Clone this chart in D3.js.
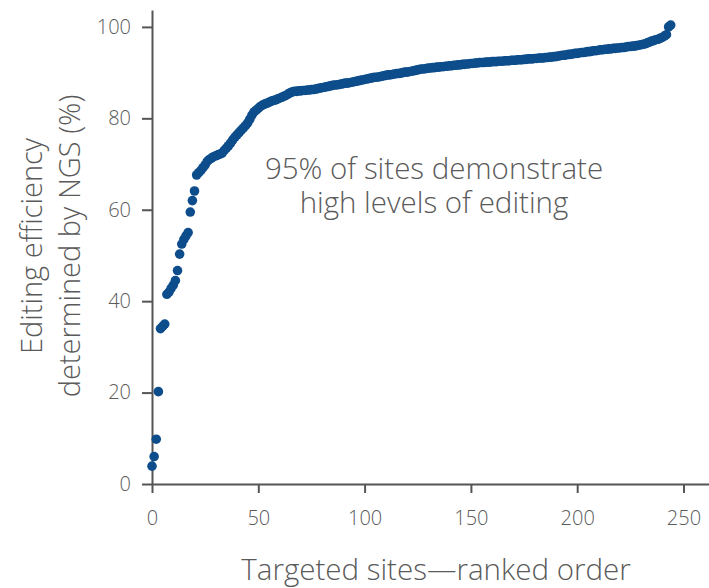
<!DOCTYPE html>
<html>
<head>
<meta charset="utf-8">
<script src="https://cdn.jsdelivr.net/npm/d3@7"></script>
<style>
  body { margin: 0; background: #fff; }
  text { font-family: "Open Sans", Lato, sans-serif; font-weight: 300; fill: #5a5a5a; }
</style>
</head>
<body>
<svg id="chart" width="709" height="588"></svg>
<script>
// 編集効率 (%) — ランク順に並べたもの
var efficiency = [
  3.9, 6.0, 9.8, 20.2, 34.0, 34.5, 35.0, 41.5, 42.0, 42.8,
  43.5, 44.5, 46.7, 50.3, 52.5, 53.5, 54.3, 55.0, 59.5, 62.0,
  64.1, 67.6, 68.1, 68.6, 69.2, 69.8, 70.6, 71.0, 71.3, 71.6,
  71.8, 72.0, 72.2, 72.4, 73.0, 73.5, 74.0, 74.6, 75.3, 75.9,
  76.4, 76.9, 77.4, 77.9, 78.4, 79.0, 79.8, 80.7, 81.4, 81.8,
  82.2, 82.6, 82.9, 83.1, 83.3, 83.5, 83.7, 83.9, 84.0, 84.2,
  84.4, 84.6, 84.8, 85.0, 85.3, 85.6, 85.8, 85.9, 85.9, 86.0,
  86.0, 86.1, 86.1, 86.2, 86.2, 86.3, 86.3, 86.4, 86.5, 86.6,
  86.7, 86.8, 86.9, 87.0, 87.1, 87.2, 87.3, 87.3, 87.4, 87.5,
  87.6, 87.7, 87.7, 87.8, 87.9, 88.0, 88.1, 88.2, 88.3, 88.4,
  88.5, 88.6, 88.7, 88.8, 88.9, 89.0, 89.0, 89.1, 89.2, 89.3,
  89.4, 89.5, 89.5, 89.6, 89.7, 89.8, 89.8, 89.9, 90.0, 90.1,
  90.1, 90.2, 90.3, 90.4, 90.5, 90.6, 90.7, 90.8, 90.8, 90.9,
  91.0, 91.0, 91.1, 91.1, 91.2, 91.2, 91.3, 91.3, 91.4, 91.4,
  91.5, 91.5, 91.6, 91.6, 91.7, 91.7, 91.8, 91.8, 91.9, 91.9,
  92.0, 92.0, 92.1, 92.1, 92.2, 92.2, 92.2, 92.3, 92.3, 92.3,
  92.4, 92.4, 92.4, 92.5, 92.5, 92.5, 92.6, 92.6, 92.6, 92.7,
  92.7, 92.7, 92.8, 92.8, 92.8, 92.9, 92.9, 93.0, 93.0, 93.0,
  93.1, 93.1, 93.2, 93.2, 93.2, 93.3, 93.3, 93.4, 93.4, 93.5,
  93.5, 93.6, 93.7, 93.8, 93.8, 93.9, 94.0, 94.0, 94.1, 94.2,
  94.2, 94.3, 94.4, 94.4, 94.5, 94.6, 94.6, 94.7, 94.8, 94.8,
  94.9, 95.0, 95.0, 95.1, 95.1, 95.2, 95.2, 95.3, 95.3, 95.4,
  95.4, 95.5, 95.5, 95.6, 95.7, 95.7, 95.8, 95.8, 95.9, 96.0,
  96.1, 96.2, 96.3, 96.5, 96.7, 96.9, 97.0, 97.2, 97.3, 97.5,
  97.7, 98.0, 98.3, 100.0, 100.4
];

// 目盛り
var xTicks = [0, 50, 100, 150, 200, 250];
var yTicks = [0, 20, 40, 60, 80, 100];

var xTitle = 'Targeted sites\u2014ranked order';
var yTitle = ['Editing efficiency', 'determined by NGS (%)'];
var note = ['95% of sites demonstrate', 'high levels of editing'];

var svg = d3.select('#chart');

var x = d3.scaleLinear().domain([0, 262]).range([152, 709]);
var y = d3.scaleLinear().domain([0, 103.7]).range([484, 10]);

// x軸
var gx = svg.append('g')
  .attr('transform', 'translate(0,484)')
  .call(d3.axisBottom(x).tickValues(xTicks).tickSize(9).tickPadding(18).tickSizeOuter(0));

// y軸
var gy = svg.append('g')
  .attr('transform', 'translate(152,0)')
  .call(d3.axisLeft(y).tickValues(yTicks).tickSize(10).tickPadding(11).tickSizeOuter(0));

[gx, gy].forEach(function(g) {
  g.select('.domain').attr('stroke', '#555').attr('stroke-width', 2);
  g.selectAll('.tick line').attr('stroke', '#555').attr('stroke-width', 2);
  g.selectAll('.tick text')
    .style('font-family', '"Open Sans", Lato, sans-serif')
    .style('font-weight', 300)
    .style('font-size', '20px')
    .attr('fill', '#5a5a5a');
});

// 点
svg.append('g')
  .selectAll('circle')
  .data(efficiency)
  .enter()
  .append('circle')
  .attr('cx', function(d, i) { return x(i); })
  .attr('cy', function(d) { return y(d); })
  .attr('r', 4.8)
  .attr('fill', '#0d4d8b');

// 軸タイトル
svg.append('text')
  .attr('x', 436)
  .attr('y', 580)
  .attr('text-anchor', 'middle')
  .style('font-size', '29.5px')
  .text(xTitle);

svg.selectAll('.ytitle')
  .data(yTitle)
  .enter()
  .append('text')
  .attr('class', 'ytitle')
  .attr('transform', function(d, i) {
      return 'translate(' + (42 + i * 38) + ',246) rotate(-90)';
  })
  .attr('text-anchor', 'middle')
  .style('font-size', '29px')
  .text(function(d) { return d; });

// 注記 (2行を1つのtextにまとめる)
svg.append('text')
  .attr('class', 'note')
  .attr('text-anchor', 'middle')
  .style('font-size', '29.5px')
  .selectAll('tspan')
  .data(note)
  .enter()
  .append('tspan')
  .attr('x', 434)
  .attr('y', function(d, i) { return 179 + i * 34; })
  .text(function(d) { return d; });
</script>
</body>
</html>
